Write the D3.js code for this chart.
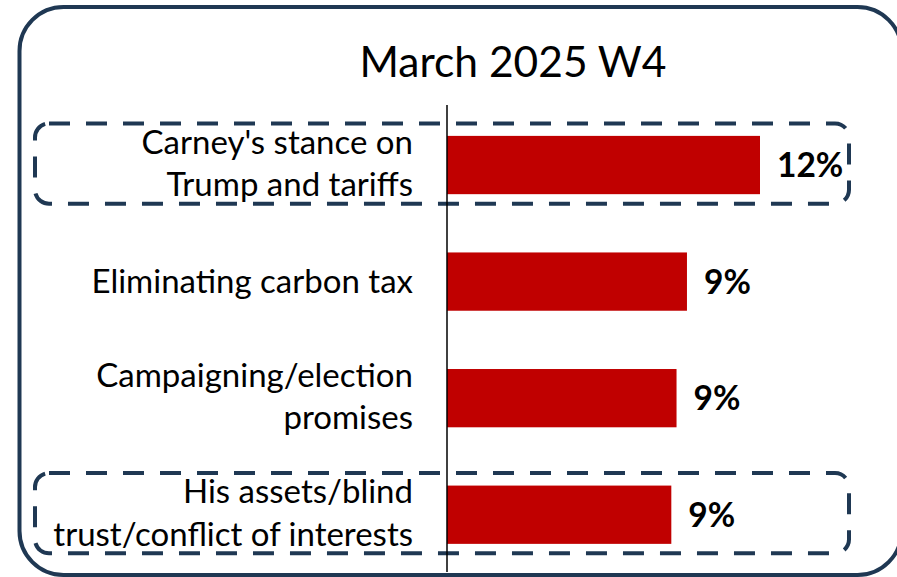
<!DOCTYPE html>
<html>
<head>
<meta charset="utf-8">
<script src="https://cdn.jsdelivr.net/npm/d3@7"></script>
<style>
  html, body { margin: 0; padding: 0; background: #fff; }
  svg { display: block; }
</style>
</head>
<body>
<svg id="chart" width="897" height="577"></svg>
<script>
// ---- data ----
const title = "March 2025 W4";
const categories = [
  ["Carney's stance on", "Trump and tariffs"],
  ["Eliminating carbon tax"],
  ["Campaigning/election", "promises"],
  ["His assets/blind", "trust/conflict of interests"]
];
const values = [12.0, 9.2, 8.8, 8.6];
const valueLabels = ["12%", "9%", "9%", "9%"];
const highlighted = [true, false, false, true];

// ---- styles ----
const barColor = "#C00000";
const navy = "#1F3853";
const font = "Lato, 'Open Sans', sans-serif";

const svg = d3.select("#chart");

// outer rounded frame
svg.append("rect")
  .attr("x", 19.5).attr("y", 7)
  .attr("width", 882).attr("height", 568)
  .attr("rx", 44).attr("ry", 44)
  .attr("fill", "none")
  .attr("stroke", navy)
  .attr("stroke-width", 4);

// title
svg.append("text")
  .attr("x", 513).attr("y", 77)
  .attr("text-anchor", "middle")
  .attr("font-family", font)
  .attr("font-size", 42.5)
  .attr("fill", "#000")
  .text(title);

const x0 = 447;
const x = d3.scaleLinear().domain([0, 12]).range([x0, 760]);
const y = d3.scaleBand()
  .domain(d3.range(categories.length))
  .range([106.75, 573])
  .paddingInner(0.5)
  .paddingOuter(0.25);

// highlight dashed boxes
svg.append("g").selectAll("rect")
  .data(d3.range(categories.length).filter(i => highlighted[i]))
  .join("rect")
  .attr("x", 35)
  .attr("y", i => y(i) - 12.5)
  .attr("width", 814)
  .attr("height", i => y.bandwidth() + 22)
  .attr("rx", 14).attr("ry", 14)
  .attr("fill", "none")
  .attr("stroke", navy)
  .attr("stroke-width", 4)
  .attr("stroke-dasharray", "21 16");

// bars
svg.append("g").selectAll("rect")
  .data(values)
  .join("rect")
  .attr("x", x(0))
  .attr("y", (d, i) => y(i))
  .attr("width", d => x(d) - x(0))
  .attr("height", y.bandwidth())
  .attr("fill", barColor);

// value labels
svg.append("g").selectAll("text")
  .data(values)
  .join("text")
  .attr("x", d => x(d) + 17)
  .attr("y", (d, i) => y(i) + y.bandwidth() / 2 + 12)
  .attr("font-family", font)
  .attr("font-weight", "bold")
  .attr("font-size", 33.5)
  .attr("fill", "#000")
  .text((d, i) => valueLabels[i]);

// category labels
const lab = svg.append("g").selectAll("text")
  .data(categories)
  .join("text")
  .attr("text-anchor", "end")
  .attr("font-family", font)
  .attr("font-size", 33)
  .attr("fill", "#000");
lab.each(function(lines, i) {
  const c = y(i) + y.bandwidth() / 2;
  const t = d3.select(this);
  const base = lines.length === 1 ? c + 11 : c - 11.5;
  lines.forEach((ln, k) => {
    t.append("tspan")
      .attr("x", 413)
      .attr("y", base + k * 42.5)
      .text(ln);
  });
});

// vertical axis line
const yAxis = d3.axisLeft(y).tickSize(0).tickFormat("");
svg.append("g")
  .attr("transform", `translate(${x0},0)`)
  .call(yAxis)
  .call(g => g.select(".domain")
    .attr("d", `M0,105V572`)
    .attr("stroke", "#000")
    .attr("stroke-width", 1.5));
</script>
</body>
</html>
